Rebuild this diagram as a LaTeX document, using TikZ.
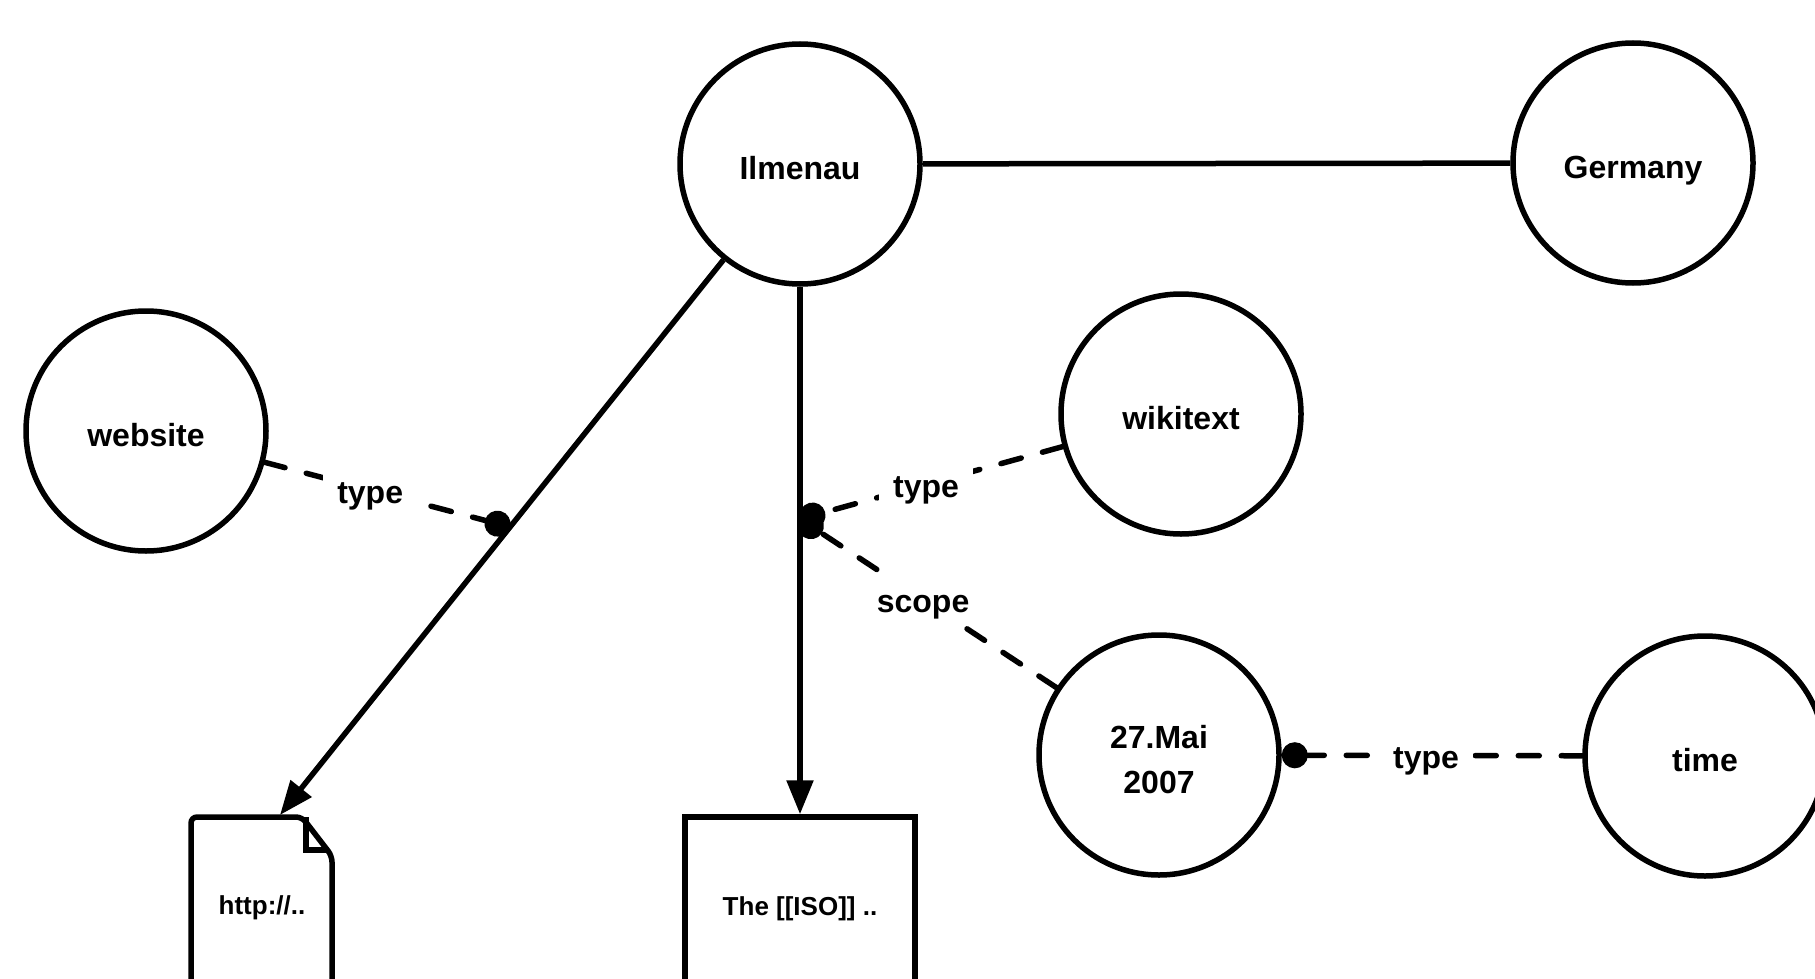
\documentclass[tikz,border=0pt]{standalone}
\usepackage{fontspec}
\setmainfont{Liberation Sans}
\usetikzlibrary{arrows.meta,calc}
\begin{document}
\begin{tikzpicture}[x=1pt,y=-1pt,
  circ/.style={circle,draw,line width=5.5pt,minimum size=240pt,inner sep=0pt,
    font=\fontsize{32}{45}\selectfont\bfseries,text height=31pt,text depth=0pt,align=center},
  lbl/.style={fill=white,inner xsep=14pt,inner ysep=9pt,text height=26pt,text depth=0pt,font=\fontsize{32}{38}\selectfont\bfseries},
  doctext/.style={font=\fontsize{26}{30}\selectfont\bfseries},
  conn/.style={line width=5.5pt},
  dashconn/.style={line width=5.5pt,dash pattern=on 21pt off 22pt,line cap=round},
  dot/.style={-{Circle[length=26pt,width=26pt]}},
  tri/.style={-{Triangle[length=34pt,width=26pt]}}]
\fill[white] (0,0) rectangle (1815,979);
\useasboundingbox (0,0) rectangle (1815,979);
% circles
\node[circ] (ilm) at (800,164) {Ilmenau};
\node[circ] (ger) at (1633,163) {Germany};
\node[circ] (web) at (146,431) {website};
\node[circ] (wiki) at (1181,414) {wikitext};
\node[circ,text height=77pt,text depth=0pt] (may) at (1159,755) {27.Mai\\2007};
\node[circ] (time) at (1705,756) {time};
% documents
\draw[conn,rounded corners=6pt] (191,1000) -- (191,817) -- (302,817) -- (332,856) -- (332,1000);
\draw[conn] (306,817) -- (306,850) -- (329,850);
\node[doctext] (d1) at (262,908) {http://..};
\node[draw,line width=5.5pt,minimum width=230pt,minimum height=183pt,inner sep=0pt,doctext] (d2) at (800,908.5) {The [[ISO]] ..};
\coordinate (d1tip) at (280,815);
% connectors
\draw[conn] (ilm) -- (ger);
\draw[conn,tri] (ilm) -- (d1tip);
\draw[conn,tri] (ilm) -- (d2.north);
\coordinate (p1) at ($(ilm.center)!0.5576!(d1tip)$);
\coordinate (p2) at (800,519);
\draw[dashconn,dot] (web) -- node[lbl,pos=0.43]{type} (p1);
\draw[dashconn,dot] (wiki) -- node[lbl,pos=0.52]{type} (p2);
\draw[dashconn,dot] (may) -- node[lbl,pos=0.52]{scope} (p2);
\draw[dashconn,dot] (time) -- node[lbl,pos=0.52]{type} (may);
\end{tikzpicture}
\end{document}
